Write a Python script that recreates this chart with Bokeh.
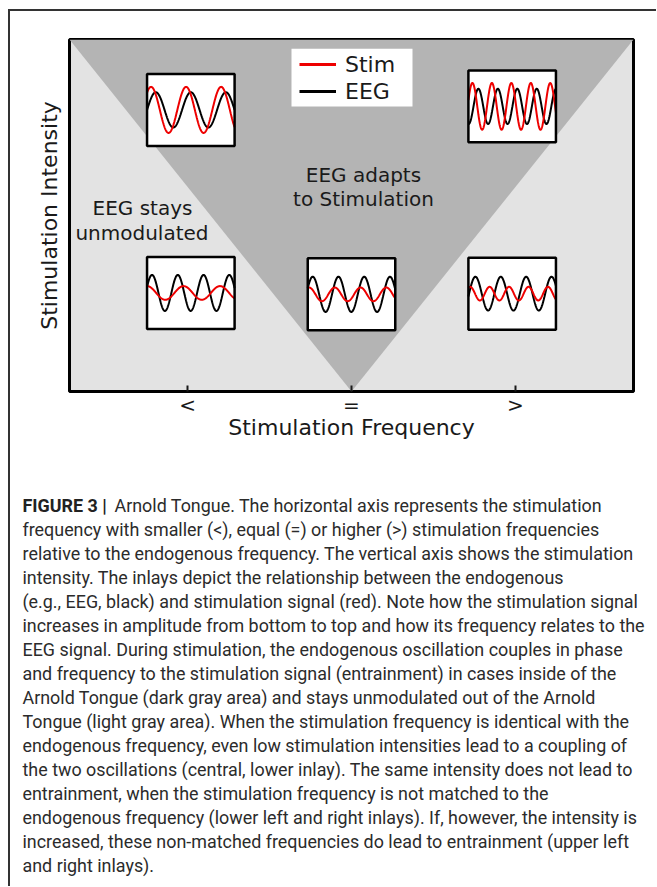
import numpy as np
from bokeh.plotting import figure
from bokeh.models import FixedTicker, Range1d, Legend, LegendItem, BoxAnnotation
from bokeh.layouts import column
from bokeh.embed import file_html
from bokeh.resources import INLINE
from bokeh.core.properties import value

# ---------------- data ----------------
freq_ticks = [-1, 0, 1]
freq_tick_labels = ["<", "=", ">"]
x_label = "Stimulation Frequency"
y_label = "Stimulation Intensity"

# Arnold tongue (dark area) vertices: frequency offset, intensity
X_HALF = 1.72
tongue_x = [-X_HALF, X_HALF, 0.0]
tongue_y = [1.0, 1.0, 0.0]

# inlays: centre (frequency, intensity)
inlay_x = [-0.98, 0.98, -0.98, 0.0, 0.98]
inlay_y = [0.80, 0.81, 0.28, 0.276, 0.278]
# waves inside inlays: cycles per inlay, amplitude (fraction of half height), first peak (fraction of width)
stim_cycles = [2.5, 4.5, 2.4, 3.4, 4.5]
stim_amp = [0.64, 0.65, 0.19, 0.19, 0.19]
stim_peak = [0.046, 0.046, 0.0, 0.015, 0.02]
eeg_cycles = [2.5, 4.5, 3.4, 3.4, 3.45]
eeg_amp = [0.49, 0.49, 0.50, 0.49, 0.47]
eeg_peak = [0.10, 0.114, 0.057, 0.057, 0.08]

region_text = ["EEG adapts", "to Stimulation", "EEG stays", "unmodulated"]
legend_labels = ["Stim", "EEG"]

caption_bold = "FIGURE 3 |"
caption_lines = [
    "Arnold Tongue. The horizontal axis represents the stimulation",
    "frequency with smaller (<), equal (=) or higher (>) stimulation frequencies",
    "relative to the endogenous frequency. The vertical axis shows the stimulation",
    "intensity. The inlays depict the relationship between the endogenous",
    "(e.g., EEG, black) and stimulation signal (red). Note how the stimulation signal",
    "increases in amplitude from bottom to top and how its frequency relates to the",
    "EEG signal. During stimulation, the endogenous oscillation couples in phase",
    "and frequency to the stimulation signal (entrainment) in cases inside of the",
    "Arnold Tongue (dark gray area) and stays unmodulated out of the Arnold",
    "Tongue (light gray area). When the stimulation frequency is identical with the",
    "endogenous frequency, even low stimulation intensities lead to a coupling of",
    "the two oscillations (central, lower inlay). The same intensity does not lead to",
    "entrainment, when the stimulation frequency is not matched to the",
    "endogenous frequency (lower left and right inlays). If, however, the intensity is",
    "increased, these non-matched frequencies do lead to entrainment (upper left",
    "and right inlays).",
]

# ---------------- styles / layout ----------------
INLAY_W = 0.534
INLAY_H = 0.2045
RED = "#ee0000"
INK = "#1a1a1a"
LIGHT = "#e3e3e3"
DARK = "#b4b4b4"
FONT = "DejaVu Sans"
CAP_FONT = "Roboto"
CAP_SIZE = "17.9px"

region_x = [0.073, 0.073, -1.275, -1.278]
region_y = [0.614, 0.548, 0.520, 0.449]

p = figure(frame_width=564, frame_height=352,
           min_border_left=59, min_border_right=23, min_border_top=28, min_border_bottom=89,
           x_range=Range1d(-X_HALF, X_HALF), y_range=Range1d(0, 1),
           toolbar_location=None, output_backend="svg")
p.frame_align = False
p.background_fill_color = LIGHT
p.border_fill_color = "white"
p.outline_line_color = "black"
p.outline_line_width = 3
p.grid.visible = False

xa = p.xaxis[0]
xa.ticker = FixedTicker(ticks=freq_ticks)
xa.major_label_overrides = {t: l for t, l in zip(freq_ticks, freq_tick_labels)}
xa.major_tick_in = 6
xa.major_tick_out = 0
xa.major_tick_line_width = 2
xa.major_tick_line_color = INK
xa.minor_tick_line_color = None
xa.axis_line_color = None
xa.major_label_text_font = FONT
xa.major_label_text_font_size = "20px"
xa.major_label_text_color = INK
xa.major_label_standoff = 1
xa.axis_label = x_label
xa.axis_label_text_font = FONT
xa.axis_label_text_font_size = "22px"
xa.axis_label_text_font_style = "normal"
xa.axis_label_text_color = INK
xa.axis_label_standoff = -5

ya = p.yaxis[0]
ya.ticker = FixedTicker(ticks=[])
ya.major_tick_line_color = None
ya.minor_tick_line_color = None
ya.axis_line_color = None
ya.axis_label = y_label
ya.axis_label_text_font = FONT
ya.axis_label_text_font_size = "22px"
ya.axis_label_text_font_style = "normal"
ya.axis_label_text_color = INK
ya.axis_label_standoff = 8

# tongue
p.patch(tongue_x, tongue_y, fill_color=DARK, line_color=None)

# inlay backgrounds
p.rect(x=inlay_x, y=inlay_y, width=INLAY_W, height=INLAY_H,
       fill_color="white", line_color=None)

# waves
u = np.linspace(0.0, 1.0, 300)
stim_xs, stim_ys, eeg_xs, eeg_ys = [], [], [], []
for i in range(len(inlay_x)):
    xs = inlay_x[i] - INLAY_W / 2 + u * INLAY_W
    stim_xs.append(xs)
    stim_ys.append(inlay_y[i] + stim_amp[i] * INLAY_H / 2 *
                   np.cos(2 * np.pi * stim_cycles[i] * (u - stim_peak[i])))
    eeg_xs.append(xs)
    eeg_ys.append(inlay_y[i] + eeg_amp[i] * INLAY_H / 2 *
                  np.cos(2 * np.pi * eeg_cycles[i] * (u - eeg_peak[i])))

p.multi_line(eeg_xs, eeg_ys, line_color="black", line_width=2)
p.multi_line(stim_xs, stim_ys, line_color=RED, line_width=2)

# inlay frames
p.rect(x=inlay_x, y=inlay_y, width=INLAY_W, height=INLAY_H,
       fill_color=None, line_color="black", line_width=2.5)

# region texts
p.text(x=region_x, y=region_y, text=region_text, text_font=value(FONT),
       text_font_size="20px", text_align="center", text_baseline="middle",
       text_color=INK)

# legend
p.add_layout(BoxAnnotation(left=-0.366, right=0.372, bottom=0.810, top=0.974,
                           fill_color="white", fill_alpha=1, line_color=None))
leg_red = p.line(x=[np.nan, np.nan], y=[np.nan, np.nan], line_color=RED, line_width=3)
leg_black = p.line(x=[np.nan, np.nan], y=[np.nan, np.nan], line_color="black", line_width=3)
legend = Legend(items=[LegendItem(label=legend_labels[0], renderers=[leg_red]),
                       LegendItem(label=legend_labels[1], renderers=[leg_black])],
                location=(230, 287), margin=0, padding=4, spacing=1,
                glyph_width=37, glyph_height=26, label_height=26, label_standoff=9,
                label_text_font=FONT, label_text_font_size="22px",
                label_text_color=INK, background_fill_alpha=0,
                border_line_color=None)
p.add_layout(legend, "center")

# ---------------- caption ----------------
CW, CH = 646, 406
c = figure(width=CW, height=CH, min_border=0,
           x_range=Range1d(0, CW), y_range=Range1d(CH, 0),
           x_axis_location=None, y_axis_location=None,
           toolbar_location=None, output_backend="svg")
c.frame_align = False
c.outline_line_color = None
c.grid.visible = False
c.background_fill_color = "white"
c.border_fill_color = "white"

line_y = [25 + 24.0 * i for i in range(len(caption_lines))]
line_x = [12] * len(caption_lines)
line_x[0] = 104
c.text(x=[12], y=[line_y[0]], text=[caption_bold], text_font=value(CAP_FONT),
       text_font_size=CAP_SIZE, text_font_style="bold", text_color="#222222",
       text_align="left", text_baseline="middle")
c.text(x=line_x, y=line_y, text=caption_lines, text_font=value(CAP_FONT),
       text_font_size=CAP_SIZE, text_color="#2b2b2b",
       text_align="left", text_baseline="middle")

layout = column(p, c, spacing=0, margin=(9, 0, 0, 8),
                styles={"border-top": "2px solid #333333",
                        "border-left": "2px solid #333333"})

open("out.html", "w").write(file_html(layout, INLINE))
